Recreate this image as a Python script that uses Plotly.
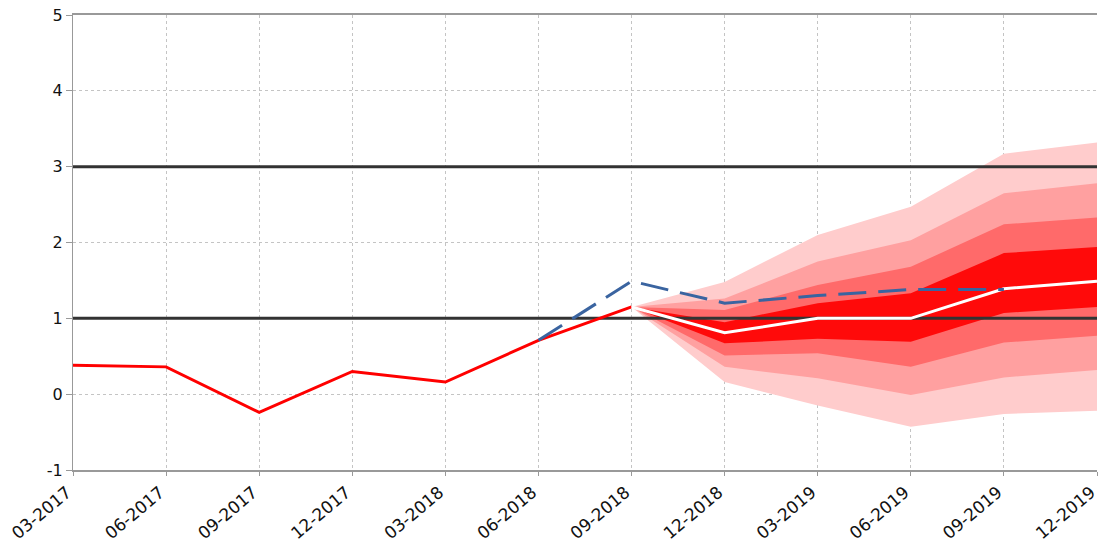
import plotly.graph_objects as go

quarters = ["03-2017", "06-2017", "09-2017", "12-2017", "03-2018", "06-2018",
            "09-2018", "12-2018", "03-2019", "06-2019", "09-2019", "12-2019"]

# Actual inflation (red line)
actual = [0.38, 0.36, -0.24, 0.30, 0.16, 0.71, 1.15]
# Previous forecast (blue dashed)
prev_forecast = [None, None, None, None, None, 0.71, 1.49, 1.20, 1.30, 1.38, 1.38, None]
# Central forecast (white line)
central = [None, None, None, None, None, None, 1.15, 0.81, 1.00, 1.00, 1.39, 1.49]

# Fan chart band bounds (from 09-2018 to 12-2019)
fan_quarters = quarters[6:]
band90_hi = [1.15, 1.48, 2.10, 2.47, 3.17, 3.32]
band90_lo = [1.15, 0.16, -0.15, -0.43, -0.26, -0.22]
band70_hi = [1.15, 1.26, 1.75, 2.03, 2.65, 2.78]
band70_lo = [1.15, 0.36, 0.21, -0.01, 0.22, 0.32]
band50_hi = [1.15, 1.11, 1.44, 1.68, 2.24, 2.33]
band50_lo = [1.15, 0.51, 0.54, 0.36, 0.68, 0.77]
band30_hi = [1.15, 0.95, 1.20, 1.33, 1.86, 1.94]
band30_lo = [1.15, 0.67, 0.73, 0.69, 1.07, 1.15]

target_bounds = [1, 3]

y_ticks = [-1, 0, 1, 2, 3, 4, 5]
y_ticktext = ["-1", "0", "1", "2", "3", "4", "5"]

idx = {q: i for i, q in enumerate(quarters)}
fx = [idx[q] for q in fan_quarters]

fig = go.Figure()

bands = [
    (band90_hi, band90_lo, "#FFCCCC"),
    (band70_hi, band70_lo, "#FFA0A0"),
    (band50_hi, band50_lo, "#FF6A6A"),
    (band30_hi, band30_lo, "#FF0A0A"),
]
for hi, lo, col in bands:
    fig.add_trace(go.Scatter(
        x=fx + fx[::-1], y=hi + lo[::-1], fill="toself", fillcolor=col,
        line=dict(width=0, color=col), mode="lines", hoverinfo="skip", showlegend=False))

for t in target_bounds:
    fig.add_trace(go.Scatter(x=[0, len(quarters) - 1], y=[t, t], mode="lines",
                             line=dict(color="#333333", width=3), showlegend=False))

fig.add_trace(go.Scatter(x=list(range(len(actual))), y=actual, mode="lines",
                         line=dict(color="#FF0000", width=3), showlegend=False))
fig.add_trace(go.Scatter(x=list(range(len(quarters))), y=central, mode="lines",
                         line=dict(color="#FFFFFF", width=3), showlegend=False))
fig.add_trace(go.Scatter(x=list(range(len(quarters))), y=prev_forecast, mode="lines",
                         line=dict(color="#3A64A0", width=3, dash="28px,12px"),
                         showlegend=False))

fig.update_layout(
    width=1101, height=544,
    margin=dict(l=73, r=4, t=15, b=74),
    plot_bgcolor="white", paper_bgcolor="white",
    font=dict(family="DejaVu Sans", size=16, color="#111111"),
)
fig.update_xaxes(
    range=[0, len(quarters) - 1], automargin=False,
    tickvals=list(range(len(quarters))), ticktext=quarters, tickangle=-40,
    tickfont=dict(size=17), ticklabeloverflow="allow", ticklabelshift=-6,
    showgrid=True, gridcolor="#C4C4C4", griddash="dot", gridwidth=1,
    showline=True, linecolor="#999999", linewidth=2, mirror=True,
    ticks="outside", ticklen=4, tickcolor="#999999", zeroline=False,
)
fig.update_yaxes(
    range=[-1, 5], tickvals=y_ticks, ticktext=y_ticktext, automargin=False,
    showgrid=True, gridcolor="#C4C4C4", griddash="dot", gridwidth=1,
    showline=True, linecolor="#999999", linewidth=1,
    ticks="outside", ticklen=6, tickcolor="#999999", zeroline=False,
)

fig.write_html(
    "out.html",
    config={"displayModeBar": False},
    post_script="document.body.style.margin='0';document.body.style.overflow='hidden';",
)
